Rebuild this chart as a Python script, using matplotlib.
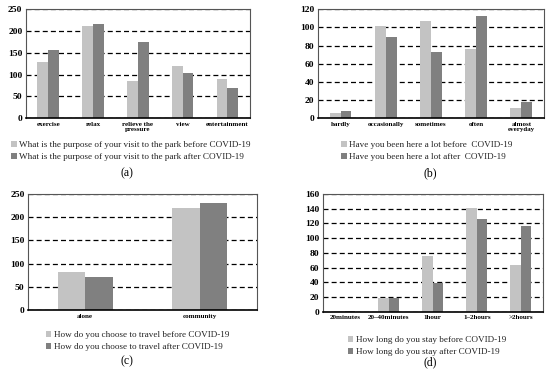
import numpy as np
import matplotlib
matplotlib.use('Agg')
import matplotlib.pyplot as plt

plt.rcParams['font.family'] = 'Liberation Serif'

# (a) purpose of visit
cats_a = ['exercise', 'relax', 'relieve the\npressure', 'view', 'entertainment']
before_a = [130, 212, 85, 120, 90]
after_a = [157, 217, 175, 103, 69]

# (b) frequency
cats_b = ['hardly', 'occasionally', 'sometimes', 'often', 'almost\neveryday']
before_b = [6, 102, 107, 76, 11]
after_b = [8, 90, 73, 113, 18]

# (c) travel
cats_c = ['alone', 'community']
before_c = [82, 220]
after_c = [71, 230]

# (d) stay duration
cats_d = ['20minutes', '20–40minutes', '1hour', '1–2hours', '>2hours']
before_d = [1, 19, 76, 141, 64]
after_d = [1, 19, 39, 126, 116]

c_before = '#c3c3c3'
c_after = '#808080'

fig = plt.figure(figsize=(5.5, 3.74), dpi=100)


def panel(rect, cats, before, after, ymax, ystep, leg_labels, leg_pos, tag, tag_pos):
    ax = fig.add_axes(rect)
    x = np.arange(len(cats))
    w = 0.24
    ax.set_axisbelow(True)
    ax.yaxis.grid(True, linestyle=(0, (4, 2.5)), color='black', linewidth=0.9)
    b1 = ax.bar(x - w / 2, before, w, color=c_before, label=leg_labels[0])
    b2 = ax.bar(x + w / 2, after, w, color=c_after, label=leg_labels[1])
    ax.set_xlim(-0.5, len(cats) - 0.5)
    ax.set_ylim(0, ymax)
    ax.set_yticks(np.arange(0, ymax + 1, ystep))
    ax.set_xticks(x)
    ax.set_xticklabels(cats, fontsize=5, fontweight='bold', linespacing=1.0)
    for t in ax.get_yticklabels():
        t.set_fontsize(6.8)
        t.set_fontweight('bold')
    ax.tick_params(length=0, pad=2.5)
    for s in ['top', 'right', 'left']:
        ax.spines[s].set_color('#555555')
        ax.spines[s].set_linewidth(0.8)
    ax.spines['bottom'].set_color('black')
    ax.spines['bottom'].set_linewidth(1.2)
    fig.legend(handles=[b1, b2], labels=leg_labels, loc='upper left',
               bbox_to_anchor=leg_pos, frameon=False, fontsize=6.6,
               handlelength=0.6, handleheight=0.6, handletextpad=0.3,
               labelspacing=0.45, borderaxespad=0, borderpad=0,
               labelcolor='#222222')
    fig.text(tag_pos[0], tag_pos[1], tag, ha='center', va='center', fontsize=8.5)
    return ax


panel([0.047, 0.684, 0.407, 0.291], cats_a, before_a, after_a, 250, 50,
      ['What is the purpose of your visit to the park before COVID-19',
       'What is the purpose of your visit to the park after COVID-19'],
      (0.020, 1 - 141 / 374), '(a)', (127 / 550, 1 - 173 / 374))

panel([0.578, 0.684, 0.411, 0.291], cats_b, before_b, after_b, 120, 20,
      ['Have you been here a lot before  COVID-19',
       'Have you been here a lot after  COVID-19'],
      (0.620, 1 - 141 / 374), '(b)', (430 / 550, 1 - 173 / 374))

panel([0.051, 0.171, 0.416, 0.310], cats_c, before_c, after_c, 250, 50,
      ['How do you choose to travel before COVID-19',
       'How do you choose to travel after COVID-19'],
      (0.083, 1 - 331 / 374), '(c)', (127 / 550, 1 - 361 / 374))

panel([0.587, 0.166, 0.4, 0.316], cats_d, before_d, after_d, 160, 20,
      ['How long do you stay before COVID-19',
       'How long do you stay after COVID-19'],
      (0.632, 1 - 336 / 374), '(d)', (430 / 550, 1 - 362 / 374))

fig.savefig('out.png', dpi=100)
